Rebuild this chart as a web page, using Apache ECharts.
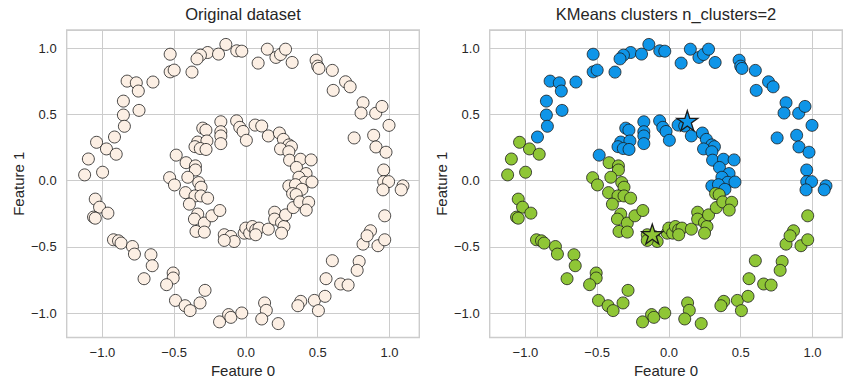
<!DOCTYPE html>
<html>
<head>
<meta charset="utf-8">
<script src="https://cdn.jsdelivr.net/npm/echarts@6/dist/echarts.min.js"></script>
<style>html,body{margin:0;padding:0;background:#fff;}#c{width:851px;height:389px;}</style>
</head>
<body>
<div id="c"></div>
<script>
// ---- data ----
const titles = ['Original dataset', 'KMeans clusters n_clusters=2'];
const xName = 'Feature 0';
const yName = 'Feature 1';
const tickValues = [-1.0, -0.5, 0.0, 0.5, 1.0];

const clusterBlue = [
  [-0.528,0.955],[-0.528,0.822],[-0.500,0.835],[-0.828,0.752],[-0.764,0.739],[-0.750,0.677],
  [-0.648,0.745],[-0.854,0.601],[-0.745,0.531],[-0.854,0.496],[-0.847,0.411],[-0.916,0.330],
  [-0.140,1.029],[-0.267,0.968],[-0.317,0.948],[-0.341,0.920],[-0.191,0.956],[-0.064,0.981],
  [-0.029,0.978],[-0.376,0.820],[0.085,0.888],[0.149,0.993],[0.209,0.931],[0.241,0.953],
  [0.276,0.993],[0.322,0.893],[0.489,0.910],[0.500,0.865],[0.509,0.848],[0.602,0.833],
  [0.608,0.682],[0.694,0.747],[0.726,0.709],[0.816,0.589],[0.802,0.511],[0.904,0.509],
  [0.948,0.561],[0.997,0.418],[0.754,0.323],[0.890,0.343],[0.906,0.255],[0.976,0.215],
  [0.960,0.081],[0.960,-0.007],[0.994,-0.007],[1.094,-0.039],[0.955,-0.069],[1.082,-0.069],
  [-0.486,0.193],[-0.175,0.445],[-0.065,0.452],[-0.301,0.397],[-0.279,0.382],[-0.175,0.370],
  [-0.175,0.338],[-0.175,0.280],[-0.043,0.403],[-0.020,0.372],[0.064,0.420],[0.110,0.413],
  [-0.336,0.292],[-0.272,0.300],[-0.355,0.257],[-0.318,0.243],[-0.278,0.236],[0.003,0.305],
  [0.156,0.338],[0.233,0.360],[0.261,0.312],[0.299,0.270],[0.317,0.257],[0.241,0.240],
  [0.299,0.219],[0.304,0.155],[0.380,0.162],[0.454,0.157],[0.352,0.100],[0.419,0.054],
  [0.369,0.026],[0.410,-0.012],[0.460,-0.010],[0.299,-0.040],[0.345,-0.030],[0.390,-0.065]
];

const clusterGreen = [
  [-1.041,0.290],[-0.972,0.240],[-0.904,0.200],[-1.098,0.164],[-1.124,0.044],[-0.999,0.064],
  [-1.050,-0.139],[-1.020,-0.200],[-1.062,-0.275],[-1.050,-0.283],[-0.962,-0.245],[-0.923,-0.446],
  [-0.888,-0.454],[-0.870,-0.471],[-0.791,-0.497],[-0.777,-0.554],[-0.662,-0.559],[-0.653,-0.642],
  [-0.710,-0.740],[-0.507,-0.697],[-0.507,-0.735],[-0.553,-0.785],[-0.491,-0.904],[-0.424,-0.944],
  [-0.389,-0.981],[-0.285,-0.828],[-0.320,-0.923],[-0.184,-1.066],[-0.121,-1.011],[-0.105,-1.032],
  [-0.029,-0.999],[0.130,-0.923],[0.142,-0.979],[0.110,-1.044],[0.225,-1.079],[0.382,-0.911],
  [0.362,-0.944],[0.477,-0.904],[0.551,-0.873],[0.505,-0.981],[0.558,-0.740],[0.660,-0.780],
  [0.712,-0.788],[0.602,-0.604],[0.789,-0.610],[0.775,-0.677],[0.816,-0.479],[0.920,-0.491],
  [0.967,-0.446],[0.868,-0.378],[0.844,-0.416],[0.967,-0.265],
  [-0.417,0.136],[-0.352,0.112],[-0.352,0.081],[-0.532,0.023],[-0.405,0.026],[-0.329,-0.014],
  [-0.498,-0.032],[-0.313,-0.049],[-0.421,-0.090],[-0.355,-0.115],[-0.313,-0.115],[-0.267,-0.132],
  [-0.394,-0.177],[-0.336,-0.252],[-0.359,-0.290],[-0.290,-0.320],[-0.237,-0.265],[-0.182,-0.225],
  [-0.348,-0.383],[-0.290,-0.388],[-0.151,-0.408],[-0.105,-0.421],[-0.082,-0.459],[-0.151,-0.451],
  [-0.012,-0.396],[-0.001,-0.358],[0.026,-0.396],[0.045,-0.346],[0.068,-0.371],[0.091,-0.358],
  [0.068,-0.408],[0.156,-0.366],[0.200,-0.238],[0.200,-0.290],[0.248,-0.316],[0.265,-0.346],
  [0.248,-0.396],[0.276,-0.258],[0.330,-0.203],[0.325,-0.097],[0.350,-0.105],[0.375,-0.160],
  [0.437,-0.163],[0.420,-0.222]
];

const centroidBlue = [[0.128, 0.453]];
const centroidGreen = [[-0.116, -0.403]];

const xLimits = [-1.249, 1.208];
const yLimits = [-1.184, 1.138];

// ---- styling / layout ----
const FONT = '"Liberation Sans", Arial, "DejaVu Sans", sans-serif';
const TXT = '#262626';
const GRIDC = '#cccccc';
const starPath = 'path://M0,-1L0.2245,-0.309L0.951,-0.309L0.363,0.118L0.588,0.809L0,0.382L-0.588,0.809L-0.363,0.118L-0.951,-0.309L-0.2245,-0.309Z';

const grids = [
  {left: 66.7, top: 30, width: 352.6, height: 307.5},
  {left: 489.7, top: 30, width: 352.6, height: 307.5}
];

function fmt(v) {
  if (Math.abs(v * 2 - Math.round(v * 2)) > 1e-6) return '';
  if (tickValues.every(t => Math.abs(t - v) > 1e-6)) return '';
  const s = Math.abs(v).toFixed(1);
  return (v < -1e-9 ? '\u2212' : '') + s;
}

function xAxisFor(i) {
  return {
    type: 'value', gridIndex: i, min: xLimits[0], max: xLimits[1], splitNumber: 5,
    name: xName, nameLocation: 'middle', nameGap: 25,
    nameTextStyle: {color: TXT, fontSize: 15, fontFamily: FONT},
    axisLine: {show: false}, axisTick: {show: false},
    axisLabel: {color: TXT, fontSize: 13, fontFamily: FONT, margin: 8, formatter: fmt,
      showMinLabel: false, showMaxLabel: false},
    splitLine: {show: true, lineStyle: {color: GRIDC, width: 1}}
  };
}
function yAxisFor(i) {
  return {
    type: 'value', gridIndex: i, min: yLimits[0], max: yLimits[1], splitNumber: 5,
    name: yName, nameLocation: 'middle', nameGap: 41,
    nameTextStyle: {color: TXT, fontSize: 15, fontFamily: FONT},
    axisLine: {show: false}, axisTick: {show: false},
    axisLabel: {color: TXT, fontSize: 13, fontFamily: FONT, margin: 10, formatter: fmt,
      showMinLabel: false, showMaxLabel: false},
    splitLine: {show: true, lineStyle: {color: GRIDC, width: 1}}
  };
}

function pointSeries(data, gi, color, z) {
  return {
    type: 'scatter', xAxisIndex: gi, yAxisIndex: gi, data: data,
    symbol: 'circle', symbolSize: 12, z: z || 2,
    itemStyle: {color: color, borderColor: '#1a1a1a', borderWidth: 0.8, opacity: 1},
    emphasis: {disabled: true}, animation: false
  };
}
function starSeries(data, color) {
  return {
    type: 'scatter', xAxisIndex: 1, yAxisIndex: 1, data: data,
    symbol: starPath, symbolSize: [21, 20], z: 5,
    itemStyle: {color: color, borderColor: '#1a1a1a', borderWidth: 1.3, opacity: 1},
    emphasis: {disabled: true}, animation: false
  };
}

const BLUE = '#0f95e8';
const GREEN = '#8fc636';
const CREAM = '#fcefe4';

const chart = echarts.init(document.getElementById('c'), null, {renderer: 'svg', width: 851, height: 389});
chart.setOption({
  animation: false,
  backgroundColor: '#ffffff',
  grid: grids.map(g => Object.assign({show: true, borderColor: GRIDC, borderWidth: 1.4, backgroundColor: 'transparent', containLabel: false}, g)),
  xAxis: [xAxisFor(0), xAxisFor(1)],
  yAxis: [yAxisFor(0), yAxisFor(1)],
  graphic: grids.map((g, i) => ({
    type: 'text', x: g.left + g.width / 2, y: 14,
    style: {text: titles[i], fill: TXT, font: '16.5px ' + FONT, textAlign: 'center', textVerticalAlign: 'middle'},
    silent: true
  })),
  series: [
    pointSeries(clusterBlue.concat(clusterGreen), 0, CREAM),
    pointSeries(clusterBlue, 1, BLUE),
    pointSeries(clusterGreen, 1, GREEN),
    starSeries(centroidBlue, BLUE),
    starSeries(centroidGreen, GREEN)
  ]
});
</script>
</body>
</html>
